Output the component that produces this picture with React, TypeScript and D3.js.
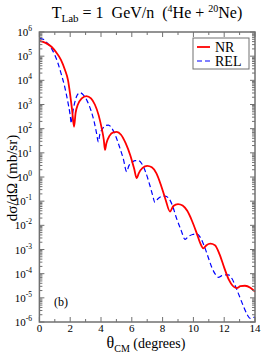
import React from 'react';
import * as d3 from 'd3';

// NR curve: [theta (deg), log10 dsigma/dOmega]
const nrTheta = [0, 0.4, 0.8, 1.1, 1.4, 1.65, 1.86, 2.0, 2.12, 2.25, 2.35, 2.5, 2.75, 3.05, 3.35, 3.6, 3.85, 4.05, 4.18, 4.26, 4.35, 4.55, 4.8, 5.02, 5.3, 5.6, 5.9, 6.15, 6.32, 6.45, 6.7, 7.0, 7.3, 7.6, 7.9, 8.2, 8.48, 8.7, 9.0, 9.3, 9.6, 9.9, 10.2, 10.45, 10.64, 10.85, 11.1, 11.4, 11.7, 12.0, 12.3, 12.55, 12.81, 13.05, 13.35, 13.7, 14.0];
const nrLog = [5.63, 5.55, 5.38, 5.15, 4.85, 4.45, 4.0, 3.4, 2.8, 2.08, 2.65, 3.0, 3.25, 3.35, 3.25, 3.0, 2.55, 2.0, 1.55, 1.12, 1.4, 1.7, 1.85, 1.87, 1.75, 1.4, 0.9, 0.35, -0.05, 0.15, 0.38, 0.46, 0.4, 0.15, -0.35, -0.95, -1.43, -1.2, -1.12, -1.18, -1.4, -1.8, -2.3, -2.75, -2.95, -2.82, -2.76, -2.82, -3.2, -3.75, -4.25, -4.5, -4.6, -4.52, -4.5, -4.58, -4.74];

// REL curve
const relTheta = [0, 0.25, 0.5, 0.8, 1.0, 1.2, 1.4, 1.64, 1.85, 2.0, 2.07, 2.15, 2.3, 2.45, 2.62, 2.85, 3.1, 3.35, 3.55, 3.7, 3.83, 3.92, 4.1, 4.3, 4.48, 4.7, 4.95, 5.2, 5.45, 5.67, 5.8, 6.0, 6.2, 6.42, 6.65, 6.9, 7.15, 7.35, 7.5, 7.7, 7.95, 8.16, 8.4, 8.65, 8.9, 9.2, 9.46, 9.7, 9.95, 10.2, 10.45, 10.7, 10.95, 11.2, 11.45, 11.62, 11.85, 12.05, 12.27, 12.5, 12.75, 13.0, 13.25, 13.5, 13.68, 13.85, 14.0];
const relLog = [5.74, 5.7, 5.55, 5.3, 5.05, 4.72, 4.3, 3.74, 3.1, 2.55, 2.22, 2.6, 3.1, 3.38, 3.49, 3.4, 3.15, 2.75, 2.3, 1.85, 1.45, 1.75, 2.0, 2.13, 2.15, 2.02, 1.7, 1.25, 0.75, 0.22, 0.45, 0.6, 0.68, 0.68, 0.55, 0.2, -0.3, -0.75, -1.05, -0.9, -0.8, -0.79, -0.88, -1.2, -1.7, -2.2, -2.58, -2.45, -2.38, -2.35, -2.5, -2.85, -3.3, -3.75, -4.05, -4.15, -4.08, -4.05, -4.05, -4.2, -4.55, -4.95, -5.35, -5.7, -5.85, -5.82, -5.8];

const xTicks = [0, 2, 4, 6, 8, 10, 12, 14];
const xMinor = [1, 3, 5, 7, 9, 11, 13];
const yExps = [-6, -5, -4, -3, -2, -1, 0, 1, 2, 3, 4, 5, 6];

const W = 261;
const H = 356;
const left = 39.4;
const right = 255;
const top = 32;
const bottom = 322;
const serif = '"Liberation Serif", "DejaVu Serif", serif';
const axisColor = '#707070';

const App: React.FC = () => {
  const x = d3.scaleLinear().domain([0, 14]).range([left, right]);
  const y = d3.scaleLog().domain([1e-6, 1e6]).range([bottom, top]);

  const line = d3.line<[number, number]>()
    .x(d => x(d[0]))
    .y(d => y(Math.pow(10, d[1])))
    .curve(d3.curveMonotoneX);

  const nr = nrTheta.map((t, i) => [t, nrLog[i]] as [number, number]);
  const rel = relTheta.map((t, i) => [t, relLog[i]] as [number, number]);

  const minorY: number[] = [];
  for (let e = -6; e < 6; e++) {
    for (let m = 2; m <= 9; m++) minorY.push(m * Math.pow(10, e));
  }

  return (
    <svg width={W} height={H} style={{ position: 'absolute', left: 0, top: 0, background: '#fff' }}
      fontFamily={serif}>
      <rect x={0} y={0} width={W} height={H} fill="#fff" />

      {/* title */}
      <text x={147} y={18} fontSize={16} textAnchor="middle" style={{ whiteSpace: 'pre' }}>
        <tspan>T</tspan>
        <tspan fontSize={11} dy={4}>Lab</tspan>
        <tspan dy={-4}>{' = 1\u00a0\u00a0GeV/n\u00a0\u00a0('}</tspan>
        <tspan fontSize={10} dy={-6}>4</tspan>
        <tspan dy={6}>{'He + '}</tspan>
        <tspan fontSize={10} dy={-6}>20</tspan>
        <tspan dy={6}>Ne)</tspan>
      </text>

      {/* curves */}
      <g>
        <path d={line(rel) ?? ''} fill="none" stroke="#0000ff" strokeWidth={1.2} strokeDasharray="5,3" />
        <path d={line(nr) ?? ''} fill="none" stroke="#ff0000" strokeWidth={1.8} />
      </g>

      {/* ticks */}
      <g stroke={axisColor} strokeWidth={1}>
        {xTicks.map(t => (
          <g key={'xt' + t}>
            <line x1={x(t)} x2={x(t)} y1={bottom} y2={bottom - 5} />
            <line x1={x(t)} x2={x(t)} y1={top} y2={top + 5} />
          </g>
        ))}
        {xMinor.map(t => (
          <g key={'xm' + t}>
            <line x1={x(t)} x2={x(t)} y1={bottom} y2={bottom - 3} />
            <line x1={x(t)} x2={x(t)} y1={top} y2={top + 3} />
          </g>
        ))}
        {yExps.map(e => (
          <g key={'yt' + e}>
            <line x1={left} x2={left + 5} y1={y(Math.pow(10, e))} y2={y(Math.pow(10, e))} />
            <line x1={right} x2={right - 5} y1={y(Math.pow(10, e))} y2={y(Math.pow(10, e))} />
          </g>
        ))}
        {minorY.map((v, i) => (
          <g key={'ym' + i}>
            <line x1={left} x2={left + 3} y1={y(v)} y2={y(v)} />
            <line x1={right} x2={right - 3} y1={y(v)} y2={y(v)} />
          </g>
        ))}
      </g>

      {/* frame */}
      <rect x={left} y={top} width={right - left} height={bottom - top} fill="none" stroke={axisColor} strokeWidth={1.5} />

      {/* tick labels */}
      {xTicks.map(t => (
        <text key={'xl' + t} x={x(t)} y={332} fontSize={11} textAnchor="middle">{t}</text>
      ))}
      {yExps.map(e => (
        <text key={'yl' + e} x={32} y={y(Math.pow(10, e)) + 4} fontSize={11} textAnchor="end">
          <tspan>10</tspan>
          <tspan fontSize={7.5} dy={-5}>{e}</tspan>
        </text>
      ))}

      {/* axis titles */}
      <text x={146} y={348} fontSize={14} textAnchor="middle">
        <tspan fontSize={16}>θ</tspan>
        <tspan fontSize={10} dy={4}>CM</tspan>
        <tspan dy={-4}> (degrees)</tspan>
      </text>
      <text transform="translate(17,178) rotate(-90)" fontSize={15} textAnchor="middle">dσ/dΩ (mb/sr)</text>

      <text x={54} y={306} fontSize={12}>(b)</text>

      {/* legend */}
      <g>
        <rect x={193} y={38} width={56} height={31} fill="#fff" stroke={axisColor} strokeWidth={1} />
        <line x1={197} x2={210} y1={47} y2={47} stroke="#ff0000" strokeWidth={1.8} />
        <text x={215} y={52} fontSize={14}>NR</text>
        <line x1={197} x2={210} y1={61} y2={61} stroke="#0000ff" strokeWidth={1.2} strokeDasharray="5,3" />
        <text x={215} y={66} fontSize={14}>REL</text>
      </g>
    </svg>
  );
};

export default App;
